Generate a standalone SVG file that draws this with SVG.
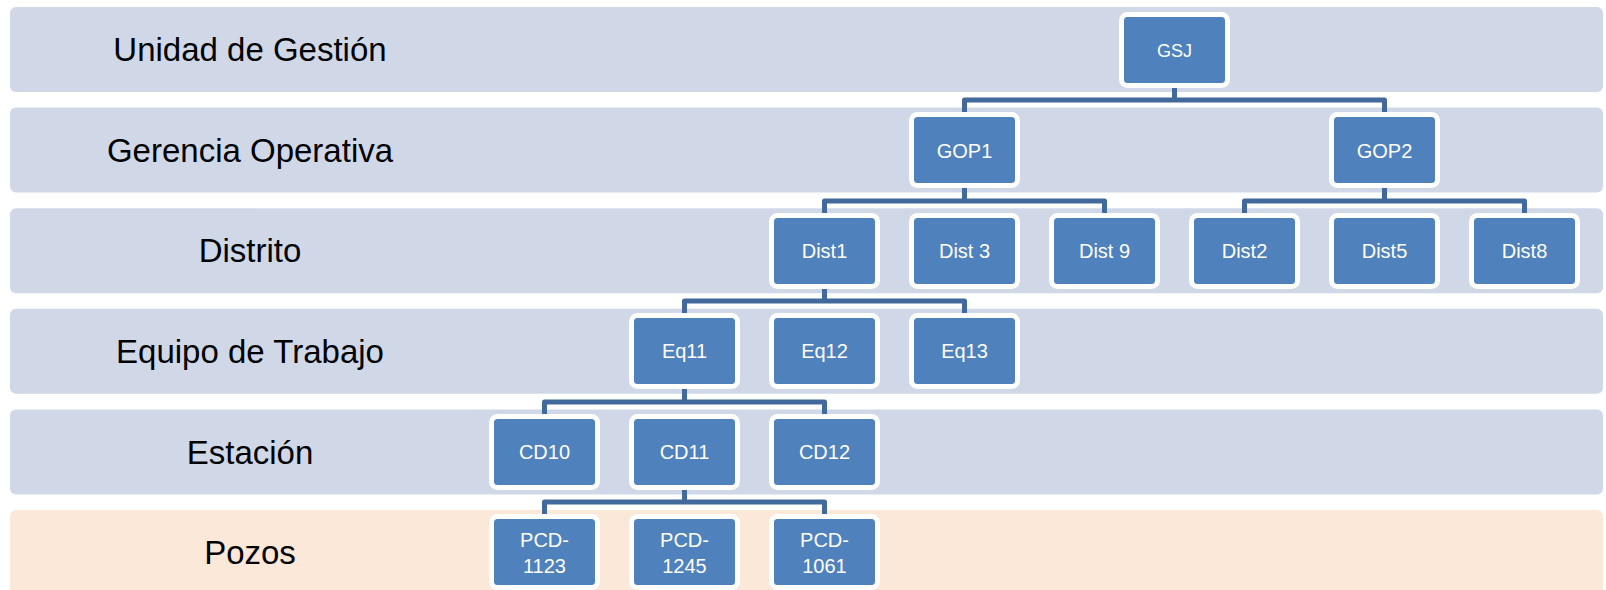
<svg xmlns="http://www.w3.org/2000/svg" width="1606" height="590" viewBox="0 0 1606 590">
<style>
.band{fill:#d0d8e8}
.band2{fill:#fce8d9}
.lbl{font-family:"Liberation Sans",Arial,sans-serif;font-size:33px;fill:#000;text-anchor:middle}
.node rect{fill:#4f81bd;stroke:#fff;stroke-width:5}
.node text{font-family:"Liberation Sans",Arial,sans-serif;font-size:20px;fill:#fff;text-anchor:middle}
.conn path{fill:none;stroke:#41699c;stroke-width:5;stroke-linejoin:round}
</style>
<rect width="1606" height="590" fill="#fff"/>
<g id="bands">
<rect class="band" x="10" y="7" width="1593" height="85" rx="6"/>
<rect class="band" x="10" y="107.6" width="1593" height="85" rx="6"/>
<rect class="band" x="10" y="208.2" width="1593" height="85" rx="6"/>
<rect class="band" x="10" y="308.8" width="1593" height="85" rx="6"/>
<rect class="band" x="10" y="409.4" width="1593" height="85" rx="6"/>
<rect class="band2" x="10" y="510" width="1593" height="100" rx="6"/>
<text class="lbl" x="250" y="61">Unidad de Gestión</text>
<text class="lbl" x="250" y="161.5">Gerencia Operativa</text>
<text class="lbl" x="250" y="262">Distrito</text>
<text class="lbl" x="250" y="363">Equipo de Trabajo</text>
<text class="lbl" x="250" y="463.5">Estación</text>
<text class="lbl" x="250" y="564">Pozos</text>
</g>
<g id="connectors" class="conn">
<path d="M1174.5 85V100"/><path d="M964.5 116V100H1384.5V116"/>
<path d="M964.5 185V201"/><path d="M824.5 216V201H1104.5V216"/>
<path d="M1384.5 185V201"/><path d="M1244.5 216V201H1524.5V216"/>
<path d="M824.5 286V301"/><path d="M684.5 316V301H964.5V316"/>
<path d="M684.5 386V402"/><path d="M544.5 417V402H824.5V417"/>
<path d="M684.5 487V502"/><path d="M544.5 517V502H824.5V517"/>
</g>
<g id="n-gsj" class="node"><rect x="1121.5" y="14.5" width="106" height="71" rx="6"/><text x="1174.5" y="57" style="font-size:18px">GSJ</text></g>
<g id="n-gop1" class="node"><rect x="911.5" y="114.5" width="106" height="71" rx="6"/><text x="964.5" y="157.5">GOP1</text></g>
<g id="n-gop2" class="node"><rect x="1331.5" y="114.5" width="106" height="71" rx="6"/><text x="1384.5" y="157.5">GOP2</text></g>
<g id="n-dist1" class="node"><rect x="771.5" y="215.5" width="106" height="71" rx="6"/><text x="824.5" y="258">Dist1</text></g>
<g id="n-dist3" class="node"><rect x="911.5" y="215.5" width="106" height="71" rx="6"/><text x="964.5" y="258">Dist 3</text></g>
<g id="n-dist9" class="node"><rect x="1051.5" y="215.5" width="106" height="71" rx="6"/><text x="1104.5" y="258">Dist 9</text></g>
<g id="n-dist2" class="node"><rect x="1191.5" y="215.5" width="106" height="71" rx="6"/><text x="1244.5" y="258">Dist2</text></g>
<g id="n-dist5" class="node"><rect x="1331.5" y="215.5" width="106" height="71" rx="6"/><text x="1384.5" y="258">Dist5</text></g>
<g id="n-dist8" class="node"><rect x="1471.5" y="215.5" width="106" height="71" rx="6"/><text x="1524.5" y="258">Dist8</text></g>
<g id="n-eq11" class="node"><rect x="631.5" y="315.5" width="106" height="71" rx="6"/><text x="684.5" y="358">Eq11</text></g>
<g id="n-eq12" class="node"><rect x="771.5" y="315.5" width="106" height="71" rx="6"/><text x="824.5" y="358">Eq12</text></g>
<g id="n-eq13" class="node"><rect x="911.5" y="315.5" width="106" height="71" rx="6"/><text x="964.5" y="358">Eq13</text></g>
<g id="n-cd10" class="node"><rect x="491.5" y="416.5" width="106" height="71" rx="6"/><text x="544.5" y="459">CD10</text></g>
<g id="n-cd11" class="node"><rect x="631.5" y="416.5" width="106" height="71" rx="6"/><text x="684.5" y="459">CD11</text></g>
<g id="n-cd12" class="node"><rect x="771.5" y="416.5" width="106" height="71" rx="6"/><text x="824.5" y="459">CD12</text></g>
<g id="n-pcd1123" class="node"><rect x="491.5" y="516.5" width="106" height="71" rx="6"/><text x="544.5" y="547">PCD-</text><text x="544.5" y="573">1123</text></g>
<g id="n-pcd1245" class="node"><rect x="631.5" y="516.5" width="106" height="71" rx="6"/><text x="684.5" y="547">PCD-</text><text x="684.5" y="573">1245</text></g>
<g id="n-pcd1061" class="node"><rect x="771.5" y="516.5" width="106" height="71" rx="6"/><text x="824.5" y="547">PCD-</text><text x="824.5" y="573">1061</text></g>
</svg>
